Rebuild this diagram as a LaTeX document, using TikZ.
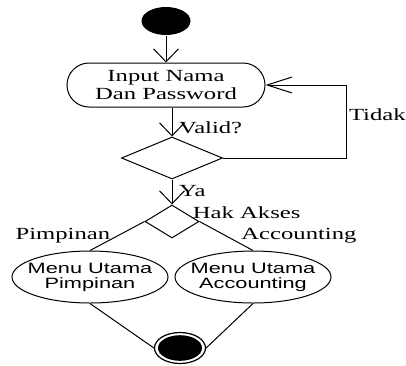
\documentclass[tikz,border=0pt]{standalone}
\usepackage{fontspec}
\setmainfont[FakeStretch=1.45]{Liberation Serif}
\newfontfamily\menufont[FakeStretch=1.45]{Liberation Sans}
\usetikzlibrary{shapes.geometric, positioning, arrows.meta}
\tikzset{
    flow/.style = {draw, -{Straight Barb[length=6.5pt, width=12.5pt]}},
    back flow/.style = {draw, -{Straight Barb[length=12.5pt, width=8pt]}},
}
\tikzset{
    start dot/.style = {ellipse, fill=black, minimum width=24.5pt, minimum height=14pt, inner sep=0pt},
    act/.style = {draw, rounded corners=11pt, minimum width=99pt, minimum height=22pt, inner sep=1pt, align=center},
    choice/.style = {diamond, draw, inner sep=0pt},
    menu/.style = {ellipse, draw, align=center, inner xsep=-4pt, inner ysep=0pt, minimum width=78pt, minimum height=26pt, font=\menufont\fontsize{7.5}{7.5}\selectfont},
    end dot/.style = {ellipse, draw, line width=0.6pt, minimum width=25.5pt, minimum height=15.5pt, inner sep=0pt,
        path picture={\fill (path picture bounding box.center) ellipse [x radius=11pt, y radius=6.4pt];}},
}

\begin{document}
\begin{tikzpicture}[every node/.style=on grid, font=\fontsize{8.5}{9}\selectfont, line width=0.5pt]
    \useasboundingbox (0,0) rectangle (203pt,-182.5pt);
    \node (start) [start dot] at (83pt,-10.5pt) {};
    \node (input) [act, below=32pt of start] {Input Nama\\Dan Password};
    \node (dec) [choice, minimum width=50.5pt, minimum height=21pt, below right=36.5pt and 3pt of input] {};
    \node (hak) [choice, minimum width=27pt, minimum height=16.5pt, below=31.75pt of dec] {};
    \node (hakakses) [anchor=west] at (hak.north east) {Hak Akses};
    \node (pim) [menu, below left=27.75pt and 41pt of hak] {Menu Utama\\Pimpinan};
    \node (acc) [menu, below right=27.75pt and 40.5pt of hak] {Menu Utama\\Accounting};
    \node (end) [end dot, below right=63.25pt and 4pt of hak] {};
    \coordinate[right=61.75pt of dec.east] (back);

    \draw[flow] (start) -- (input);
    \draw[flow] (input.south -| dec.north) -- node[right, pos=0.7] (valid) {Valid?} (dec.north);
    \draw[back flow] (dec.east) -- (back) |- node[right, pos=0.3, inner sep=1pt] (tidak) {Tidak} (input.east);
    \draw[flow] (dec.south) -- node[right, pos=0.45] (ya) {Ya} (hak.north);
    \draw (hak.west) -- node[left, midway] (lblpim) {Pimpinan} (pim.north);
    \draw (hak.east) -- node[right=4pt, midway] (lblacc) {Accounting} (acc.north);
    \draw (pim.south) -- (end.west);
    \draw (acc.south) -- (end.east);
\end{tikzpicture}
\end{document}
